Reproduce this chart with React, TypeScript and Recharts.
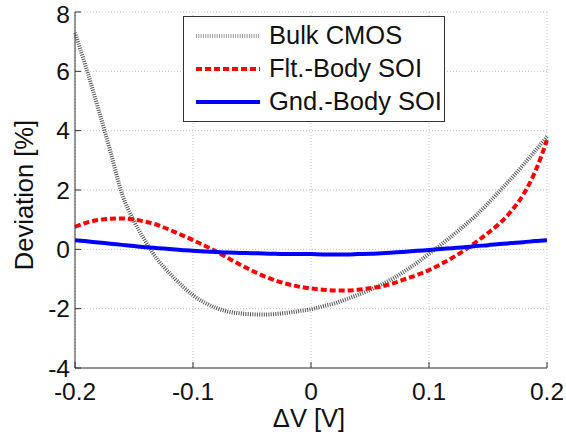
import React from 'react';
import { LineChart, Line, XAxis, YAxis, CartesianGrid, Legend } from 'recharts';

const FONT = '"Liberation Sans", Arial, Helvetica, sans-serif';

// Delta V [V]
const deltaV = [
  -0.2, -0.19, -0.18, -0.17, -0.16, -0.15, -0.14, -0.13, -0.12, -0.11, -0.1,
  -0.09, -0.08, -0.07, -0.06, -0.05, -0.04, -0.03, -0.02, -0.01, 0,
  0.01, 0.02, 0.03, 0.04, 0.05, 0.06, 0.07, 0.08, 0.09, 0.1,
  0.11, 0.12, 0.13, 0.14, 0.15, 0.16, 0.17, 0.18, 0.19, 0.2,
];

// Deviation [%]
const bulkCmos = [
  7.3, 6.05, 4.7, 3.3, 1.85, 0.95, 0.25, -0.35, -0.8, -1.2, -1.55,
  -1.8, -1.98, -2.1, -2.16, -2.19, -2.2, -2.18, -2.14, -2.08, -2.02,
  -1.92, -1.82, -1.68, -1.53, -1.37, -1.18, -0.97, -0.72, -0.45, -0.15,
  0.15, 0.47, 0.8, 1.15, 1.55, 1.97, 2.4, 2.85, 3.32, 3.8,
];

const fltBodySoi = [
  0.76, 0.9, 0.99, 1.03, 1.04, 1.0, 0.93, 0.82, 0.66, 0.49, 0.31,
  0.12, -0.08, -0.3, -0.52, -0.72, -0.9, -1.05, -1.17, -1.26, -1.32,
  -1.36, -1.39, -1.39, -1.36, -1.31, -1.25, -1.14, -1.0, -0.86, -0.7,
  -0.5, -0.28, -0.03, 0.25, 0.55, 0.88, 1.3, 1.85, 2.62, 3.68,
];

const gndBodySoi = [
  0.31, 0.27, 0.23, 0.19, 0.15, 0.11, 0.07, 0.04, 0.01, -0.02, -0.05,
  -0.07, -0.09, -0.11, -0.12, -0.13, -0.14, -0.15, -0.16, -0.16, -0.16,
  -0.17, -0.17, -0.17, -0.16, -0.15, -0.13, -0.11, -0.08, -0.05, -0.02,
  0.01, 0.04, 0.07, 0.11, 0.14, 0.18, 0.21, 0.24, 0.28, 0.31,
];

const xTicks = [-0.2, -0.1, 0, 0.1, 0.2];
const yTicks = [-4, -2, 0, 2, 4, 6, 8];

const series = [
  { key: 'bulk', name: 'Bulk CMOS', color: '#555555', width: 4, dash: '1 1.3' },
  { key: 'flt', name: 'Flt.-Body SOI', color: '#ff0000', width: 4, dash: '6 3' },
  { key: 'gnd', name: 'Gnd.-Body SOI', color: '#0000ff', width: 4, dash: undefined },
];

const data = deltaV.map((v, i) => ({
  v,
  bulk: bulkCmos[i],
  flt: fltBodySoi[i],
  gnd: gndBodySoi[i],
}));

const LegendBox = () => (
  <div
    style={{
      border: '1px solid #333',
      background: '#fff',
      width: 262,
      height: 106,
      boxSizing: 'border-box',
      padding: '2px 0 0 11px',
      fontFamily: FONT,
      fontSize: 25.5,
      color: '#111',
    }}
  >
    {series.map((s) => (
      <div key={s.key} style={{ display: 'flex', alignItems: 'center', height: 33 }}>
        <svg width={66} height={10}>
          <line
            x1={1}
            x2={65}
            y1={5}
            y2={5}
            stroke={s.key === 'bulk' ? '#999' : s.color}
            strokeWidth={s.width}
            strokeDasharray={s.dash}
          />
        </svg>
        <span style={{ marginLeft: 8, whiteSpace: 'nowrap' }}>{s.name}</span>
      </div>
    ))}
  </div>
);

export default function App() {
  return (
    <div style={{ position: 'absolute', left: 0, top: 0, background: '#fff' }}>
      <LineChart width={566} height={434} data={data} margin={{ top: 12, right: 19, bottom: 0, left: 0 }}>
        <CartesianGrid stroke="#c4c4c4" strokeDasharray="1 2" />
        <XAxis
          dataKey="v"
          type="number"
          domain={[-0.2, 0.2]}
          ticks={xTicks}
          height={66}
          stroke="#333"
          tickSize={-6}
          tickMargin={21}
          tick={{ fill: '#111', fontSize: 24.5, fontFamily: FONT }}
          label={{
            content: (p: any) => (
              <text
                x={p.viewBox.x + p.viewBox.width / 2 - 2}
                y={p.viewBox.y + 59}
                textAnchor="middle"
                fill="#111"
                fontSize={25.5}
                fontFamily={FONT}
              >
                ΔV [V]
              </text>
            ),
          }}
        />
        <XAxis
          xAxisId="top"
          orientation="top"
          type="number"
          domain={[-0.2, 0.2]}
          ticks={xTicks}
          height={0}
          stroke="#333"
          tickSize={-6}
          tick={false}
        />
        <YAxis
          type="number"
          domain={[-4, 8]}
          ticks={yTicks}
          width={75}
          stroke="#333"
          tickSize={-6}
          tickMargin={11}
          tick={{ fill: '#111', fontSize: 24.5, fontFamily: FONT }}
          label={{
            content: (p: any) => {
              const cx = p.viewBox.x + 24;
              const cy = p.viewBox.y + p.viewBox.height / 2 + 5;
              return (
                <text
                  x={cx}
                  y={cy}
                  transform={`rotate(-90 ${cx} ${cy})`}
                  textAnchor="middle"
                  dominantBaseline="central"
                  fill="#111"
                  fontSize={25.5}
                  fontFamily={FONT}
                >
                  Deviation [%]
                </text>
              );
            },
          }}
        />
        <YAxis
          yAxisId="right"
          orientation="right"
          type="number"
          domain={[-4, 8]}
          ticks={yTicks}
          width={0}
          stroke="#333"
          tickSize={-6}
          tick={false}
        />
        <Legend
          layout="vertical"
          verticalAlign="middle"
          align="center"
          wrapperStyle={{ left: 183, top: 16, width: 262 }}
          content={() => <LegendBox />}
        />
        {series.map((s) => (
          <Line
            key={s.key}
            dataKey={s.key}
            name={s.name}
            type="monotone"
            stroke={s.color}
            strokeWidth={s.width}
            strokeDasharray={s.dash}
            dot={false}
            activeDot={false}
            isAnimationActive={false}
          />
        ))}
      </LineChart>
    </div>
  );
}
